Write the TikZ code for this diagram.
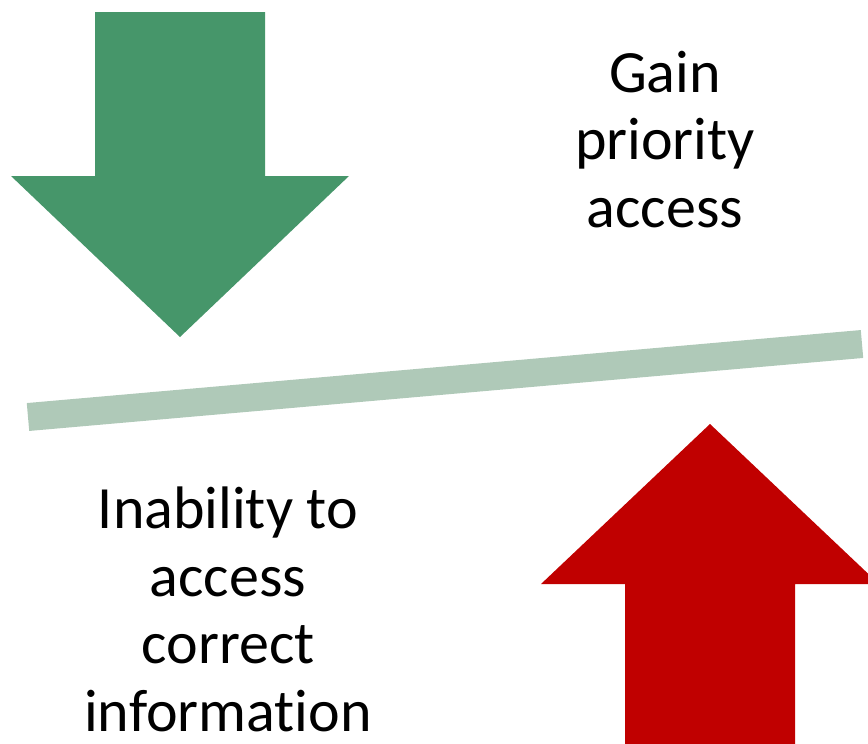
\documentclass[tikz,border=0pt]{standalone}
\usepackage{fontspec}
\setmainfont{Carlito}[Ligatures=NoCommon]
\definecolor{arrowgreen}{RGB}{70,150,106}
\definecolor{arrowred}{RGB}{192,0,0}
\definecolor{barcolor}{RGB}{175,201,184}
\begin{document}
\begin{tikzpicture}[x=1pt,y=-1pt,
  bigtext/.style={inner sep=0pt, align=center, font=\fontsize{60}{67.5}\selectfont}]
\useasboundingbox (0,0) rectangle (868,744);
\clip (0,0) rectangle (868,744);
% green arrow pointing down
\fill[arrowgreen] (95,12) -- (265,12) -- (265,176) -- (349,176) -- (180,337)
  -- (11,176) -- (95,176) -- cycle;
% red arrow pointing up
\fill[arrowred] (625,760) -- (625,584) -- (541,584) -- (710,424) -- (879,584)
  -- (795,584) -- (795,760) -- cycle;
% balance bar
\coordinate (barL) at (28,417);
\coordinate (barR) at (862,344);
\draw[barcolor, line width=28pt, line cap=butt] (barL) -- (barR);
% texts
\node[bigtext, anchor=north] (gain) at (665,51) {Gain\\priority\\access};
\node[bigtext, anchor=north] (inab) at (228,487) {Inability to\\access\\correct\\information};
\end{tikzpicture}
\end{document}
